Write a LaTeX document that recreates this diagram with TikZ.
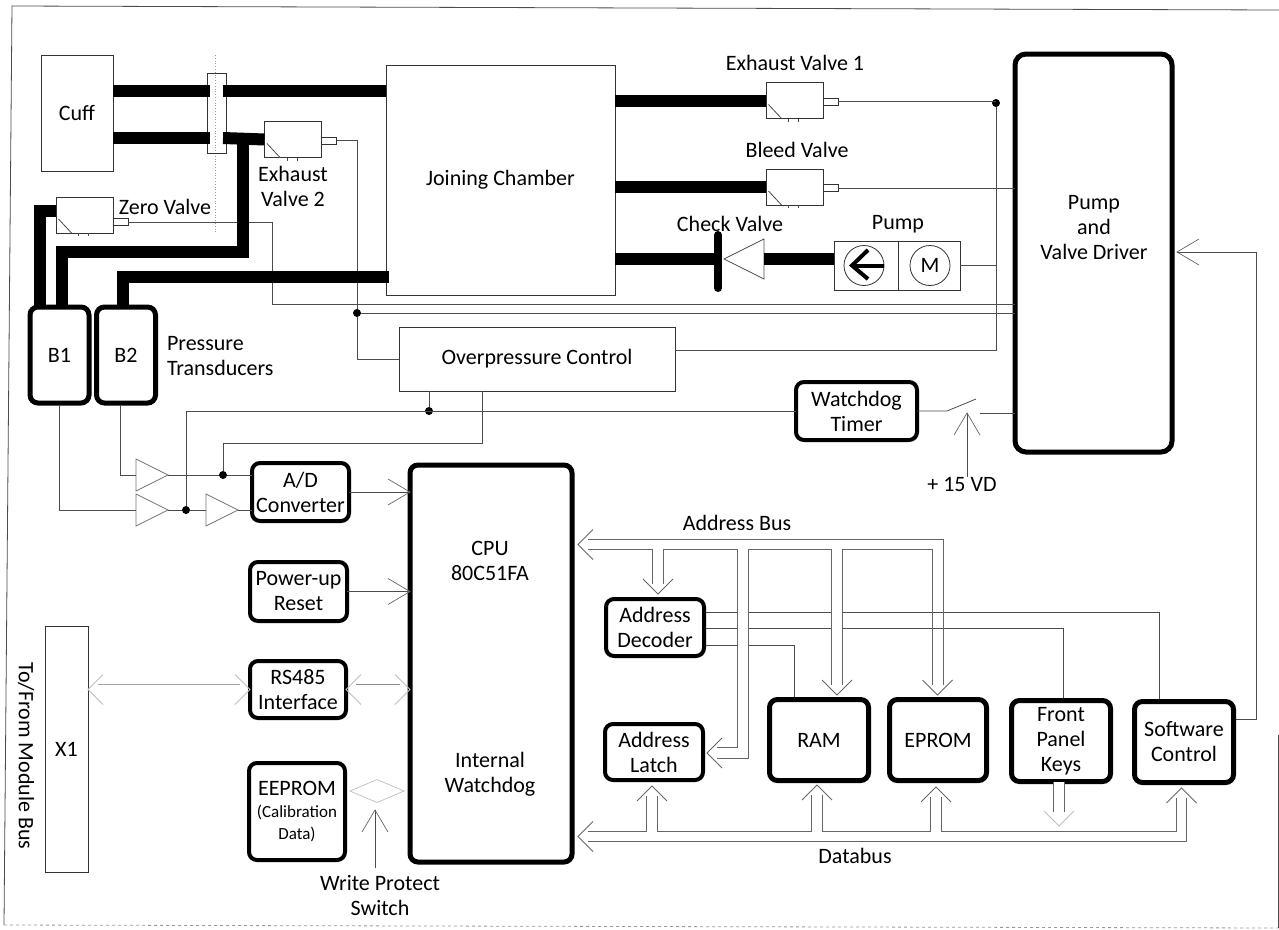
\documentclass[tikz,border=0pt]{standalone}
\usepackage{fontspec}
\setmainfont{Carlito}
\usetikzlibrary{shapes.geometric}

\begin{document}
\begin{tikzpicture}[x=1pt,y=-1pt,
    every node/.style={font=\fontsize{22}{25}\selectfont,align=center,inner sep=0pt,outer sep=0pt},
    wire/.style={draw=black!70,line width=0.8pt},
    tube/.style={draw=black!80,line width=0.8pt,fill=white},
    roundbox/.style={draw=black,line width=4pt,rounded corners=8pt,fill=white},
    pipe/.style={draw=black,line width=12pt,line join=miter},
    bus/.style={draw=black!60,line width=0.8pt,double,double distance=10pt},
    rail/.style={draw=black!60,line width=0.8pt},
    tipped/.style={shorten >=10pt},
    jdot/.style={circle,fill=black,minimum size=8pt},
    amp/.style={draw=black!55,line width=0.7pt,isosceles triangle,isosceles triangle stretches,minimum width=32pt,minimum height=32pt},
    pics/bushead/.style={code={\draw[black!60,line width=0.8pt] (-15,-15) -- (0,0) -- (-15,15);}},
    pics/fainthead/.style={code={\draw[black!25,line width=0.8pt] (-15,-15) -- (0,0) -- (-15,15);}},
    pics/barbhead/.style={code={\draw[black!60,line width=0.7pt] (-22,-13) -- (0,0) -- (-22,13);}},
    pics/valve/.default=1,
    pics/valve/.style={code={
      \node[tube,minimum width=57pt,minimum height=36pt] (-body) at (0,0) {};
      \node[tube,minimum width=15pt,minimum height=7pt] (-stub) at (36,#1) {};
      \draw[wire] (-26,4) -- (-13,18);
      \draw[wire] (-6,18) -- (-6,21);
      \draw[wire] (4,18) -- (4,21);
    }}]
  \useasboundingbox (0,0) rectangle (1279,929);
  %
  \coordinate (fa) at (12,6);
  \coordinate (fb) at (4,925);
  \coordinate (fc) at (1278,928);
  \coordinate (fd) at (1279,10);
  \coordinate (fe) at (1278,735);
  \draw[wire] (fd) -- (fa) -- (fb);
  \draw[wire,draw=black!40,dashed] (fb) -- (fc);
  \draw[wire] (fe) -- (fc);
  %
  \node[tube,minimum width=72pt,minimum height=116pt] (cuff) at (77,113) {Cuff};
  \draw[wire,draw=black!40,dotted] (215,55) -- (215,232);
  \node[tube,fill=none,minimum width=19pt,minimum height=80pt] (sep) at (216.5,113) {};
  \node[tube,minimum width=229pt,minimum height=230pt] (joint) at (500.5,180) {Joining Chamber};
  \node[tube,minimum width=276pt,minimum height=64pt] (ovp) at (537,359) {Overpressure Control};
  \node[tube,minimum width=43pt,minimum height=246pt] (xone) at (66.5,749) {X1};
  \node[rotate=-90] (busname) at (26,756) {To/From Module Bus};
  %
  \pic (evone) at (794.5,100.5) {valve};
  \pic (bleed) at (794.5,187) {valve};
  \pic (evtwo) at (293,139.5) {valve};
  \pic (zero) at (84.5,215) {valve=7};
  \node (evonename) at (795,63) {Exhaust Valve 1};
  \node (bleedname) at (797,150) {Bleed Valve};
  \node (evtwoname) at (293,186) {Exhaust\\Valve 2};
  \node (zeroname) at (165,207) {Zero Valve};
  \node (checkname) at (730,224) {Check Valve};
  \node (pumpname) at (898,224) {Pump};
  \node (transname) [anchor=west,align=left] at (167,356) {Pressure\\Transducers};
  %
  \node[tube,minimum width=64pt,minimum height=49pt] (pumpa) at (866,265.5) {};
  \node[tube,minimum width=62pt,minimum height=49pt] (pumpm) at (929,265.5) {};
  \node[tube,circle,minimum size=40pt] (pumpc) at (864,265.5) {};
  \node[tube,circle,minimum size=40pt] (motor) at (930,265.5) {M};
  \coordinate (chevu) at (868,250);
  \coordinate (chevd) at (868,279);
  \coordinate (chevt) at (852,265.5);
  \draw[line width=4pt] (pumpc.east) -- (chevt);
  \draw[line width=4pt] (chevu) -- (chevt) -- (chevd);
  %
  \node[roundbox,line width=5pt,minimum width=59pt,minimum height=96pt] (bone) at (59.5,355) {B1};
  \node[roundbox,line width=5pt,minimum width=59pt,minimum height=96pt] (btwo) at (126,355) {B2};
  \node[roundbox,minimum width=97pt,minimum height=58pt] (adc) at (300.5,492) {A/D\\Converter};
  \node[roundbox,minimum width=97pt,minimum height=59pt] (reset) at (298.5,591.5) {Power-up\\Reset};
  \node[roundbox,minimum width=96pt,minimum height=57pt] (rs) at (298,689.5) {RS485\\Interface};
  \node[roundbox,minimum width=96pt,minimum height=97pt] (eeprom) at (297,811.5) {EEPROM\\[-3pt]{\fontsize{17}{20}\selectfont (Calibration}\\[-3pt]{\fontsize{17}{20}\selectfont Data)}};
  \node[roundbox,line width=5pt,minimum width=162pt,minimum height=397pt] (cpu) at (491,663.5) {};
  \node (cpuname) at (490,561) {CPU\\80C51FA};
  \node (wdname) at (490,774) {Internal\\Watchdog};
  \node[roundbox,minimum width=98pt,minimum height=57pt] (decoder) at (655,627.5) {Address\\Decoder};
  \node[roundbox,minimum width=98pt,minimum height=56pt] (latch) at (654,752) {Address\\Latch};
  \node[roundbox,line width=5pt,minimum width=99pt,minimum height=81pt] (ram) at (819,740) {RAM};
  \node[roundbox,line width=5pt,minimum width=97pt,minimum height=81pt] (eprom) at (938,740) {EPROM};
  \node[roundbox,line width=5pt,minimum width=99pt,minimum height=81pt] (keys) at (1061,741) {Front\\Panel\\Keys};
  \node[roundbox,line width=5pt,minimum width=99pt,minimum height=81pt] (soft) at (1184,742) {Software\\Control};
  \node[roundbox,minimum width=121pt,minimum height=58pt] (wdog) at (856.5,411) {Watchdog\\Timer};
  \node[roundbox,line width=5pt,rounded corners=11pt,minimum width=157pt,minimum height=398pt] (drv) at (1093.5,253) {};
  \node (drvname) at (1094,228) {Pump\\and\\Valve Driver};
  %
  \node (addrname) at (737,523) {Address Bus};
  \node (dataname) at (855,856) {Databus};
  \node (voltname) at (962,484) {+ 15 VD};
  \node (wpname) at (380,895.5) {Write Protect\\Switch};
  %
  \node[jdot] (dota) at (996,103) {};
  \node[jdot] (dotb) at (357,313) {};
  \node[jdot] (dotc) at (223,475) {};
  \node[jdot] (dotd) at (186,510) {};
  \node[jdot] (dote) at (429,411) {};
  %
  \node[amp,anchor=apex] (ampa) at (168,475) {};
  \node[amp,anchor=apex] (ampb) at (168,510) {};
  \node[amp,anchor=apex] (ampc) at (238,510) {};
  \node[amp,shape border rotate=180,anchor=apex,draw=black!70,minimum width=40pt,minimum height=40pt] (check) at (724,259) {};
  %
  \coordinate (bonea) at (59,405);
  \coordinate (btwoa) at (120,405);
  \coordinate (ovpb) at (482,391);
  \coordinate (ovpc) at (223,443);
  \coordinate (ovpr) at (675,350);
  \coordinate (zeroturn) at (272,304);
  \coordinate (swa) at (947,411);
  \coordinate (swb) at (976,399);
  \coordinate (swc) at (980,413);
  \coordinate (volttip) at (967,413);
  \coordinate (softa) at (1236,719);
  \coordinate (softb) at (1256,252);
  \coordinate (drvtip) at (1177,252);
  \coordinate (deca) at (706,612);
  \coordinate (decb) at (706,628);
  \coordinate (decc) at (706,645);
  \coordinate (softc) at (1159,699);
  \coordinate (keysa) at (1063,698);
  \coordinate (rama) at (794,697);
  \coordinate (wptip) at (375,810);
  \coordinate (wpbot) at (375,868);
  %
  \draw[wire] (evone-stub.east) -- (evone-stub.east -| dota);
  \draw[wire] (bleed-stub.east) -- (bleed-stub.east -| drv.west);
  \draw[wire] (pumpm.east) -- (pumpm.east -| dota);
  \draw[wire] (dota) |- (ovpr);
  \draw[wire] (evtwo-stub.east) -| (dotb) |- (ovp.west);
  \draw[wire] (dotb) -- (dotb -| drv.west);
  \draw[wire] (zero-stub.east) -| (zeroturn) -- (zeroturn -| drv.west);
  \draw[wire] (bonea) |- (ampb.lower side);
  \draw[wire] (btwoa) |- (ampa.lower side);
  \draw[wire] (ampa.apex) -- (dotc);
  \draw[wire] (ampb.apex) -- (dotd);
  \draw[wire] (dotd) -- (ampc.lower side);
  \draw[wire] (dotc) -- (dotc -| adc.west);
  \draw[wire] (ampc.apex) -- (ampc.apex -| adc.west);
  \draw[wire] (dotd) |- (wdog.west);
  \draw[wire] (dote) -- (dote |- ovp.south);
  \draw[wire] (ovpb) |- (ovpc) -- (dotc);
  \draw[wire] (wdog.east) -- (swa) -- (swb);
  \draw[wire] (swc) -- (swc -| drv.west);
  \draw[wire] (voltname.north -| volttip) -- (volttip);
  \pic[rotate=90] at (volttip) {barbhead};
  \draw[wire] (softa) -| (softb) -- (drvtip);
  \pic[rotate=180] at (drvtip) {barbhead};
  \draw[wire] (deca) -| (softc);
  \draw[wire] (decb) -| (keysa);
  \draw[wire] (decc) -| (rama);
  \draw[wire] (adc.east) -- (cpu.west |- adc.east);
  \pic at (cpu.west |- adc.east) {barbhead};
  \draw[wire] (reset.east) -- (cpu.west |- reset.east);
  \pic at (cpu.west |- reset.east) {barbhead};
  %
  \coordinate (addrtip) at (578,544.5);
  \coordinate (addra) at (588,539.5);
  \coordinate (addrb) at (943,539.5);
  \coordinate (addrc) at (943,685);
  \coordinate (addrd) at (588,549.5);
  \coordinate (addre) at (932,549.5);
  \coordinate (addrf) at (932,685);
  \coordinate (eprtip) at (937.5,695);
  \coordinate (dectop) at (658,549);
  \coordinate (dectip) at (658,594);
  \coordinate (rambus) at (837,549);
  \coordinate (ramtip) at (837,695);
  \coordinate (latbus) at (743,549);
  \coordinate (latturn) at (743,753);
  \coordinate (lattip) at (707,753);
  \coordinate (datatip) at (578,836.5);
  \coordinate (dataa) at (588,831.5);
  \coordinate (datab) at (1176.5,831.5);
  \coordinate (datac) at (1176.5,798);
  \coordinate (datad) at (588,841.5);
  \coordinate (datae) at (1186.5,841.5);
  \coordinate (dataf) at (1186.5,798);
  \coordinate (softtip) at (1181.5,788);
  \coordinate (latlow) at (652,832);
  \coordinate (lattop) at (652,786);
  \coordinate (ramlow) at (817,832);
  \coordinate (ramtop) at (817,785);
  \coordinate (eprlow) at (936,832);
  \coordinate (eprtop) at (936,787);
  \coordinate (keystip) at (1059,826);
  %
  \draw[rail] (addra) -- (addrb) -- (addrc);
  \draw[rail] (addrd) -- (addre) -- (addrf);
  \pic[rotate=180] at (addrtip) {bushead};
  \pic[rotate=-90] at (eprtip) {bushead};
  \draw[bus,tipped] (dectop) -- (dectip);
  \pic[rotate=-90] at (dectip) {bushead};
  \draw[bus,tipped] (rambus) -- (ramtip);
  \pic[rotate=-90] at (ramtip) {bushead};
  \draw[bus,tipped] (latbus) -- (latturn) -- (lattip);
  \pic[rotate=180] at (lattip) {bushead};
  \draw[rail] (dataa) -- (datab) -- (datac);
  \draw[rail] (datad) -- (datae) -- (dataf);
  \pic[rotate=180] at (datatip) {bushead};
  \pic[rotate=90] at (softtip) {bushead};
  \draw[bus,tipped] (latlow) -- (lattop);
  \pic[rotate=90] at (lattop) {bushead};
  \draw[bus,tipped] (ramlow) -- (ramtop);
  \pic[rotate=90] at (ramtop) {bushead};
  \draw[bus,tipped] (eprlow) -- (eprtop);
  \pic[rotate=90] at (eprtop) {bushead};
  \draw[bus,shorten >=14pt] (keys.south -| keystip) -- (keystip);
  \pic[rotate=-90] at (keystip) {fainthead};
  %
  \draw[bus,draw=black!35,shorten <=10pt,tipped] (xone.east |- rs.west) -- (rs.west);
  \pic[rotate=180] at (xone.east |- rs.west) {fainthead};
  \pic at (rs.west) {fainthead};
  \draw[bus,draw=black!45,shorten <=10pt,tipped] (rs.east) -- (cpu.west |- rs.east);
  \pic[rotate=180] at (rs.east) {fainthead};
  \pic at (cpu.west |- rs.east) {fainthead};
  \node[draw=black!25,line width=0.7pt,diamond,aspect=2.3,minimum width=54pt,minimum height=23pt] (wpsw) at (377,791) {};
  \draw[wire] (wpbot) -- (wptip);
  \pic[rotate=90] at (wptip) {barbhead};
  %
  \coordinate (cuffa) at (113,91);
  \coordinate (sepa) at (210,91);
  \coordinate (sepb) at (223,91);
  \coordinate (cuffb) at (113,138);
  \coordinate (sepc) at (210,138);
  \coordinate (sepd) at (223,138);
  \coordinate (teea) at (243,138);
  \coordinate (teeb) at (243,252);
  \coordinate (bonetop) at (62,307);
  \coordinate (zeroin) at (56,211);
  \coordinate (bonepin) at (40,307);
  \coordinate (btwochan) at (389,277);
  \coordinate (btwotop) at (123,307);
  \coordinate (barup) at (718,235);
  \coordinate (bardn) at (718,288);
  \coordinate (barmid) at (718,259);
  %
  \draw[pipe] (cuffa) -- (sepa);
  \draw[pipe] (sepb) -- (sepb -| joint.west);
  \draw[pipe] (cuffb) -- (sepc);
  \draw[pipe] (sepd) -- (evtwo-body.west);
  \draw[pipe] (teea) -- (teeb) -- (teeb -| bonetop) -- (bonetop);
  \draw[pipe] (zeroin) -| (bonepin);
  \draw[pipe] (btwochan) -| (btwotop);
  \draw[pipe] (joint.east |- evone-body.west) -- (evone-body.west);
  \draw[pipe] (joint.east |- bleed-body.west) -- (bleed-body.west);
  \draw[pipe] (joint.east |- barmid) -- (barmid);
  \draw[line width=8pt,line cap=round] (barup) -- (bardn);
  \draw[pipe] (check.lower side) -- (check.lower side -| pumpa.west);
\end{tikzpicture}
\end{document}
